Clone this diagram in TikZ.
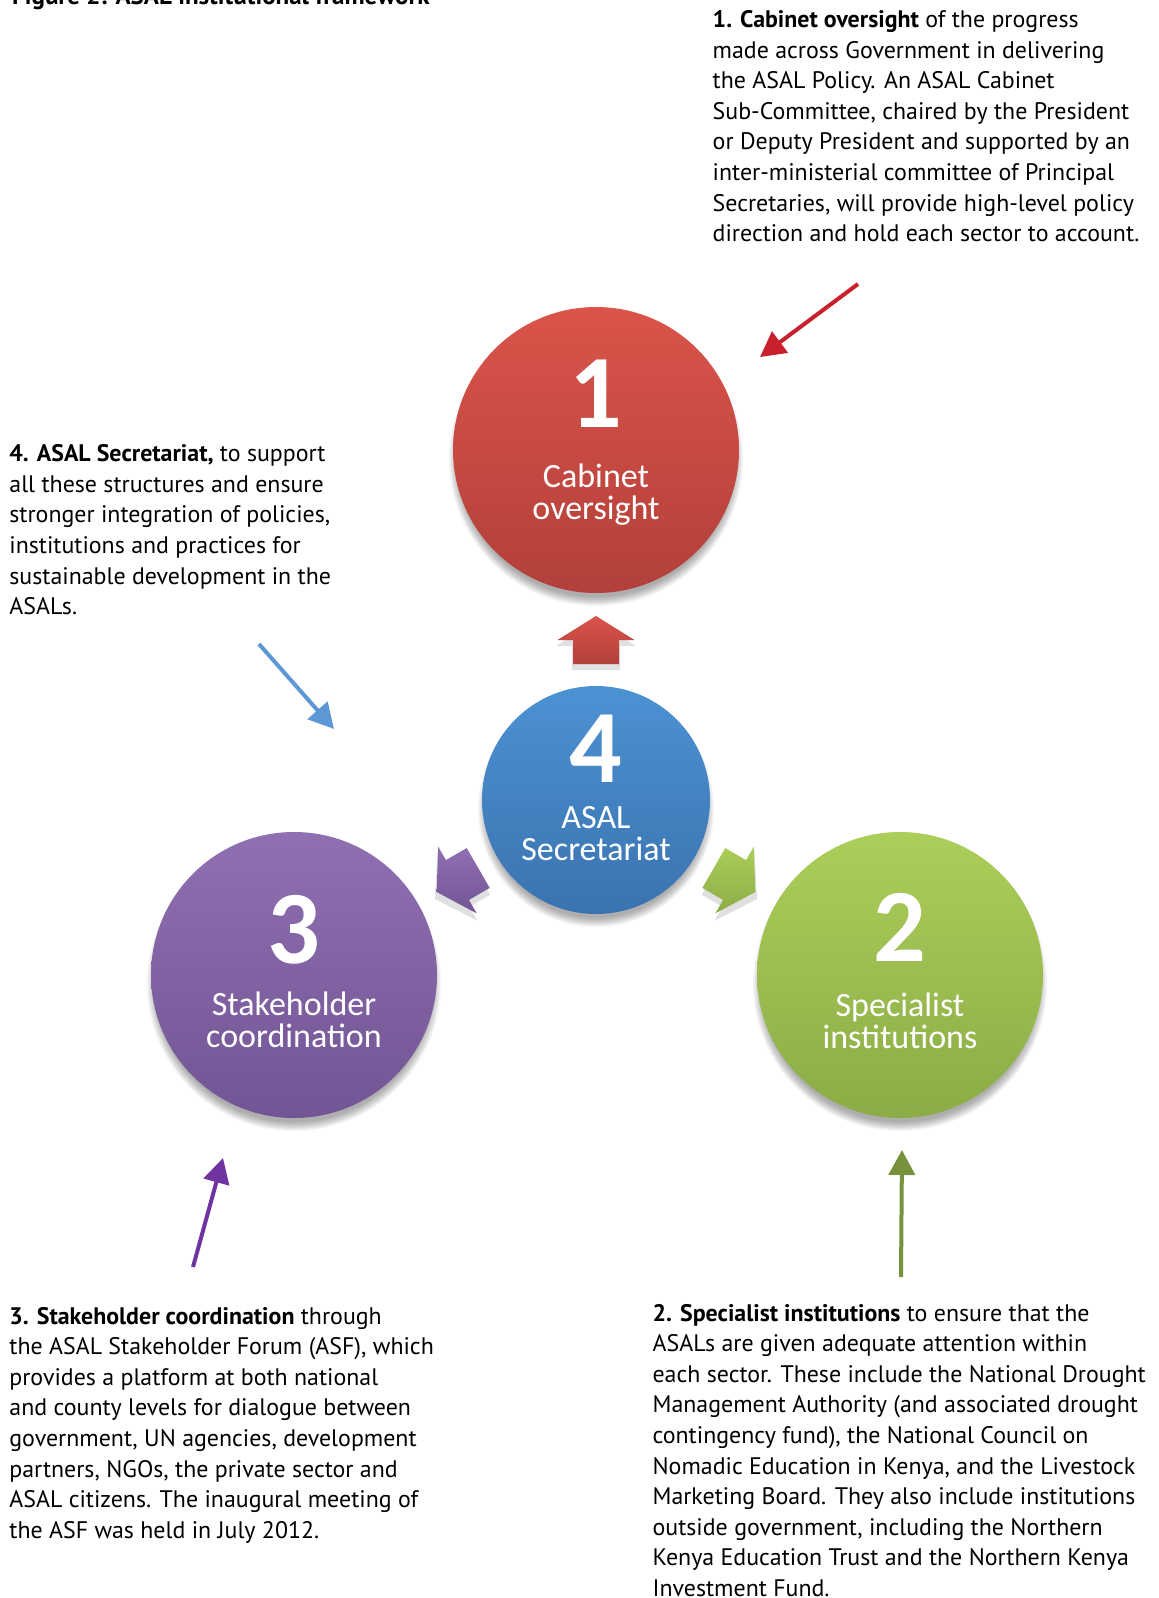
\documentclass[tikz,border=0pt]{standalone}
\usepackage{fontspec}
\setmainfont{PT Sans}
\newfontfamily\circfont{Carlito}
\usetikzlibrary{arrows.meta}
\definecolor{redA}{RGB}{218,84,74}
\definecolor{redB}{RGB}{178,64,58}
\definecolor{bluA}{RGB}{76,146,211}
\definecolor{bluB}{RGB}{58,115,175}
\definecolor{purA}{RGB}{143,112,178}
\definecolor{purB}{RGB}{114,85,148}
\definecolor{grnA}{RGB}{172,206,90}
\definecolor{grnB}{RGB}{139,172,70}
\definecolor{lnRed}{RGB}{200,32,44}
\definecolor{lnBlue}{RGB}{92,152,212}
\definecolor{lnPur}{RGB}{112,52,160}
\definecolor{lnGrn}{RGB}{118,146,60}
\newcommand\circshadow[3]{\foreach \k in {1,...,10}{\fill[black,opacity=0.035] (#1,#2+9) circle ({#3+5-\k});}}
\newcommand\blockarrow[4]{%
  \begin{scope}[shift={(596,806)}, rotate=#2]
    \fill[black,opacity=0.12] (136,-24) -- (160,-24) -- (160,-40) -- (186,0) -- (160,40) -- (160,24) -- (136,24) -- cycle;
  \end{scope}
  \begin{scope}[shift={(596,800)}, rotate=#2]
    \coordinate (#1a) at (136,-23);
    \coordinate (#1b) at (160,-23);
    \coordinate (#1c) at (160,-38.5);
    \coordinate (#1d) at (184,0);
    \coordinate (#1e) at (160,38.5);
    \coordinate (#1f) at (160,23);
    \coordinate (#1g) at (136,23);
  \end{scope}
  \shade[top color=#3, bottom color=#4] (#1a) -- (#1b) -- (#1c) -- (#1d) -- (#1e) -- (#1f) -- (#1g) -- cycle;
}
\begin{document}
\begin{tikzpicture}[x=1pt,y=-1pt,
  body/.style={anchor=base west, align=left, inner sep=0pt, font=\fontsize{23.9}{30.6}\selectfont},
  disc/.style={circle, inner sep=0pt},
  num/.style={anchor=base, inner sep=0pt, text depth=0pt, text=white, font=\circfont\bfseries\fontsize{104}{104}\selectfont},
  lab/.style={anchor=base, align=center, inner sep=0pt, text=white, font=\circfont\fontsize{34}{32.6}\selectfont},
  callout/.style={line width=4pt, -{Triangle[length=25pt,width=26pt]}}]
\fill[white] (0,0) rectangle (1159,1598);
\useasboundingbox (0,0) rectangle (1159,1598);

% title (cut off at top)
\node[anchor=base west, inner sep=0pt, font=\bfseries\fontsize{25}{30}\selectfont] (title) at (12,5) {Figure 2: ASAL institutional framework};

% shadows
\circshadow{596}{450}{143}
\circshadow{596}{800}{114}
\circshadow{294}{975}{143}
\circshadow{900}{975}{143}

% circles
\node[disc, minimum size=286pt, top color=redA, bottom color=redB] (c1) at (596,450) {};
\node[disc, minimum size=228pt, top color=bluA, bottom color=bluB] (c4) at (596,800) {};
\node[disc, minimum size=286pt, top color=purA, bottom color=purB] (c3) at (294,975) {};
\node[disc, minimum size=286pt, top color=grnA, bottom color=grnB] (c2) at (900,975) {};

% block arrows
\blockarrow{ba1}{90}{redA}{redB}
\blockarrow{ba3}{210}{purA}{purB}
\blockarrow{ba2}{330}{grnA}{grnB}

% circle texts (base = baseline of last line)
\node[num] (n1) at (596,427.5) {1};
\node[lab] (l1) at (596,519.6) {Cabinet\\oversight};
\node[num] (n4) at (596,782) {4};
\node[lab] (l4) at (596,860.6) {ASAL\\Secretariat};
\node[num] (n3) at (294,963) {3};
\node[lab] (l3) at (294,1047.6) {Stakeholder\\coordination};
\node[num] (n2) at (900,961) {2};
\node[lab] (l2) at (900,1048.6) {Specialist\\institutions};

% body texts (base = baseline of last line)
\node[body] (t1) at (712.5,241.6) {\textbf{1. Cabinet oversight} of the progress\\
made across Government in delivering\\
the ASAL Policy. An ASAL Cabinet\\
Sub-Committee, chaired by the President\\
or Deputy President and supported by an\\
inter-ministerial committee of Principal\\
Secretaries, will provide high-level policy\\
direction and hold each sector to account.};

\node[body] (t4) at (9.2,614.6) {\textbf{4. ASAL Secretariat,} to support\\
all these structures and ensure\\
stronger integration of policies,\\
institutions and practices for\\
sustainable development in the\\
ASALs.};

\node[body] (t3) at (9.2,1538.2) {\textbf{3. Stakeholder coordination} through\\
the ASAL Stakeholder Forum (ASF), which\\
provides a platform at both national\\
and county levels for dialogue between\\
government, UN agencies, development\\
partners, NGOs, the private sector and\\
ASAL citizens. The inaugural meeting of\\
the ASF was held in July 2012.};

\node[body] (t2) at (652.4,1596.4) {\textbf{2. Specialist institutions} to ensure that the\\
ASALs are given adequate attention within\\
each sector. These include the National Drought\\
Management Authority (and associated drought\\
contingency fund), the National Council on\\
Nomadic Education in Kenya, and the Livestock\\
Marketing Board. They also include institutions\\
outside government, including the Northern\\
Kenya Education Trust and the Northern Kenya\\
Investment Fund.};

% callout arrows
\coordinate (a1s) at (858,284);
\coordinate (a1e) at (760,357);
\coordinate (a4s) at (259,644);
\coordinate (a4e) at (334,729);
\coordinate (a3s) at (193,1267);
\coordinate (a3e) at (223,1158);
\coordinate (a2s) at (901,1277);
\coordinate (a2e) at (902,1150);
\draw[callout, lnRed] (a1s) -- (a1e);
\draw[callout, lnBlue] (a4s) -- (a4e);
\draw[callout, lnPur] (a3s) -- (a3e);
\draw[callout, lnGrn] (a2s) -- (a2e);
\end{tikzpicture}
\end{document}
